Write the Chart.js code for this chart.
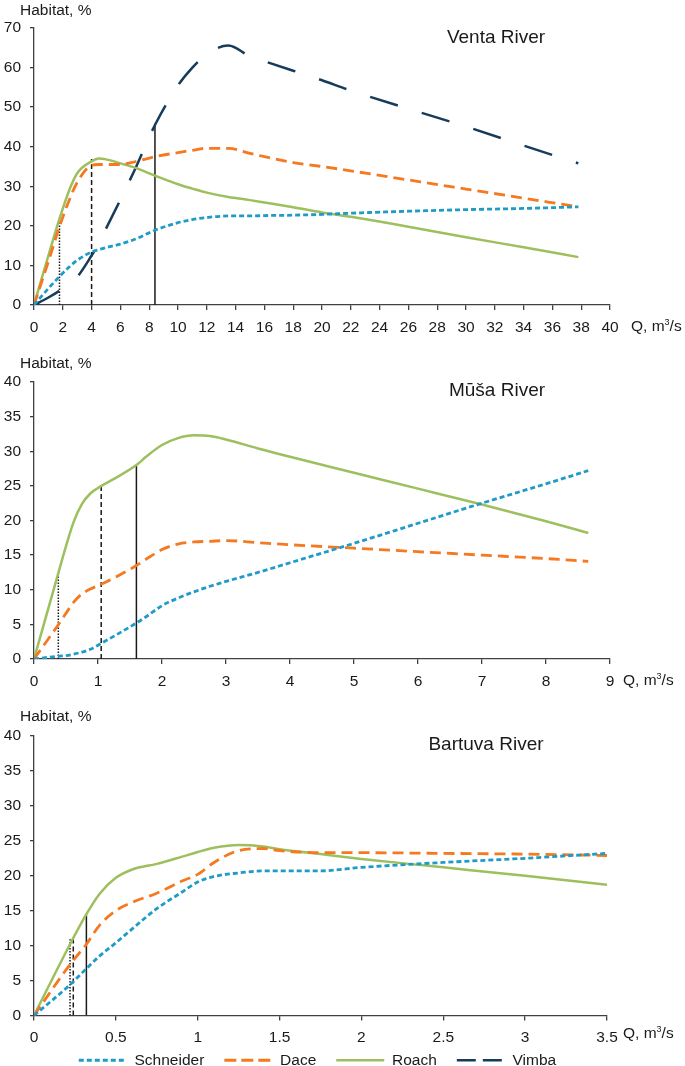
<!DOCTYPE html>
<html>
<head>
<meta charset="utf-8">
<script src="https://cdn.jsdelivr.net/npm/chart.js@4.4.1/dist/chart.umd.min.js"></script>
<style>
  html, body { margin: 0; padding: 0; background: #fff; }
  body { width: 685px; height: 1066px; position: relative; overflow: hidden;
         font-family: "Liberation Sans", Arial, sans-serif; color: #1a1a1a; }
  canvas { position: absolute; left: 0; }
  .lbl { position: absolute; font-size: 15.5px; line-height: 18px; white-space: nowrap; transform: translateY(-50%); }
  .river { position: absolute; font-size: 19px; line-height: 22px; white-space: nowrap; transform: translate(-50%, -50%); }
  sup { font-size: 9px; vertical-align: 6px; line-height: 0; }
</style>
</head>
<body>
<canvas id="ventaChart" width="685" height="335" style="top:0px"></canvas>
<canvas id="musaChart" width="685" height="344" style="top:345px"></canvas>
<canvas id="bartuvaChart" width="685" height="391" style="top:700px"></canvas>

<div class="lbl" style="left:20px; top:10px">Habitat, %</div>
<div class="river" style="left:496px; top:37px">Venta River</div>
<div class="lbl" style="left:631px; top:326px">Q, m<sup>3</sup>/s</div>

<div class="lbl" style="left:20px; top:363px">Habitat, %</div>
<div class="river" style="left:497px; top:390px">Mūša River</div>
<div class="lbl" style="left:623px; top:680px">Q, m<sup>3</sup>/s</div>

<div class="lbl" style="left:20px; top:716px">Habitat, %</div>
<div class="river" style="left:486px; top:744px">Bartuva River</div>
<div class="lbl" style="left:623px; top:1033px">Q, m<sup>3</sup>/s</div>

<script>
// Venta River
const ventaQ         = [0, 1, 1.77, 2.5, 3, 4, 4.5, 5, 6, 7, 8.4, 10, 11, 12, 13.5, 15, 16, 18, 20, 22, 26, 30, 34, 37.8];
const ventaSchneider = [0, 4.2, 7.2, 9.8, 11.3, 13.4, 14.0, 14.5, 15.4, 16.6, 18.9, 20.8, 21.6, 22.1, 22.5, 22.5, 22.6, 22.7, 22.9, 23.2, 23.7, 24.1, 24.4, 24.8];
const ventaDace      = [0, 11, 19.8, 27, 31, 35.3, 35.5, 35.5, 35.5, 36.2, 37.5, 38.5, 39.1, 39.6, 39.6, 38.3, 37.5, 36.0, 35.0, 33.9, 31.6, 29.3, 27.0, 24.8];
const ventaRoach     = [0, 12.5, 21.8, 29.5, 33.3, 36.3, 37.0, 36.8, 35.8, 34.7, 32.7, 30.5, 29.4, 28.4, 27.3, 26.5, 25.9, 24.7, 23.4, 22.3, 19.8, 17.1, 14.6, 12.1];
const ventaVimba     = [0, 1.9, 3.6, 5.6, 7.1, 12.5, 15.6, 19.3, 26.6, 34.2, 45.5, 55.5, 60.0, 63.4, 65.6, 62.8, 61.6, 59.2, 56.8, 54.2, 49.6, 45.1, 40.3, 35.8];
const ventaMarkQ     = [1.77, 4, 8.4];
const ventaMarkTop   = [21.5, 36.9, 45.8];

// Mūša River
const musaQ         = [0, 0.38, 0.5, 0.62, 0.75, 0.88, 1, 1.25, 1.6, 1.75, 2, 2.25, 2.5, 2.75, 3, 3.5, 4, 5, 6, 7, 8, 8.66];
const musaSchneider = [0, 0.4, 0.5, 0.7, 1.0, 1.4, 2.0, 3.3, 5.2, 6.1, 7.7, 8.8, 9.7, 10.5, 11.2, 12.5, 13.9, 16.7, 19.6, 22.5, 25.3, 27.2];
const musaDace      = [0, 4.95, 6.6, 8.2, 9.4, 10.1, 10.6, 11.7, 13.5, 14.4, 15.8, 16.6, 16.9, 17.0, 17.1, 16.8, 16.5, 16.0, 15.5, 15.0, 14.5, 14.1];
const musaRoach     = [0, 12.4, 16.3, 19.8, 22.4, 23.9, 24.7, 26.0, 28.0, 29.2, 30.9, 31.9, 32.3, 32.2, 31.7, 30.4, 29.2, 26.9, 24.6, 22.3, 19.9, 18.2];
const musaMarkQ     = [0.38, 1.05, 1.6];
const musaMarkTop   = [12.4, 25.0, 27.9];

// Bartuva River
const bartuvaQ         = [0, 0.22, 0.32, 0.4, 0.5, 0.6, 0.75, 0.9, 1, 1.1, 1.25, 1.4, 1.5, 1.75, 2, 2.5, 3, 3.5];
const bartuvaSchneider = [0, 4.4, 6.7, 8.5, 10.4, 12.4, 15.3, 17.6, 19.1, 19.9, 20.4, 20.7, 20.7, 20.7, 21.2, 21.9, 22.5, 23.2];
const bartuvaDace      = [0, 7.3, 10.2, 12.9, 15.0, 16.2, 17.5, 19.2, 20.2, 21.9, 23.6, 23.9, 23.6, 23.3, 23.3, 23.2, 23.1, 22.9];
const bartuvaRoach     = [0, 10.2, 14.5, 17.4, 19.7, 20.9, 21.7, 22.7, 23.4, 24.0, 24.4, 24.2, 23.8, 23.1, 22.4, 21.2, 20.0, 18.7];
const bartuvaMarkQ     = [0.22, 0.24, 0.32];
const bartuvaMarkTop   = [10.9, 11.2, 14.5];

const speciesNames = ['Schneider', 'Dace', 'Roach', 'Vimba'];
const speciesColors = ['#1F9BC8', '#F47920', '#9DBF5E', '#173B5A'];
const speciesDash = [[5, 3], [11, 6], [], [29, 25]];
const speciesWidth = [2.8, 2.8, 2.5, 2.5];
const legendDash = [[5, 3], [12, 5], [], [19, 7]];
const markDash = [[1.5, 1.5], [5, 3], []];

Chart.defaults.font.family = '"Liberation Sans", Arial, sans-serif';
Chart.defaults.font.size = 15.5;
Chart.defaults.color = '#1a1a1a';

function pairs(xs, ys) {
  return xs.map((x, i) => ({x: x, y: ys[i]}));
}

function buildDatasets(q, series, markQ, markTop) {
  const sets = speciesNames.map((name, i) => ({
    label: name,
    data: series[i] ? pairs(q, series[i]) : [],
    borderColor: speciesColors[i],
    backgroundColor: speciesColors[i],
    borderWidth: speciesWidth[i],
    borderDash: speciesDash[i],
    cubicInterpolationMode: 'monotone',
    pointRadius: 0,
    fill: false
  }));
  markQ.forEach((mq, i) => {
    sets.push({
      label: 'mark' + i,
      data: [{x: mq, y: 0}, {x: mq, y: markTop[i]}],
      borderColor: '#1a1a1a',
      borderWidth: 1.5,
      borderDash: markDash[i],
      pointRadius: 0,
      tension: 0,
      fill: false
    });
  });
  return sets;
}

// nudge the shared legend under the last panel
const legendShift = {
  id: 'legendShift',
  afterLayout(chart) {
    if (chart.options.plugins.legend.display && chart.legend) {
      chart.legend.left += 14;
      chart.legend.right += 14;
      chart.legend.top -= 13;
      chart.legend.bottom -= 13;
    }
  }
};

function makeChart(id, datasets, cfg) {
  new Chart(document.getElementById(id), {
    type: 'line',
    data: {datasets: datasets},
    options: {
      responsive: false,
      animation: false,
      devicePixelRatio: 1,
      layout: {padding: {top: cfg.padTop, right: cfg.padRight, left: 0, bottom: 0}},
      scales: {
        x: {
          type: 'linear',
          min: 0,
          max: cfg.xMax,
          afterFit: s => { s.height = 30; },
          afterBuildTicks: s => { s.ticks = cfg.xTicks.map(v => ({value: v})); },
          border: {color: '#404040', width: 1.3},
          grid: {drawOnChartArea: false, tickLength: 5, color: '#404040', lineWidth: 1.3},
          ticks: {
            padding: 8,
            autoSkip: false,
            maxRotation: 0,
            callback: v => String(v)
          }
        },
        y: {
          min: 0,
          max: cfg.yMax,
          afterFit: s => { s.width = 34; },
          afterBuildTicks: s => { s.ticks = cfg.yTicks.map(v => ({value: v})); },
          border: {color: '#404040', width: 1.3},
          grid: {drawOnChartArea: false, tickLength: 4, color: '#404040', lineWidth: 1.3},
          ticks: {padding: 9, callback: v => String(v)}
        }
      },
      plugins: {
        tooltip: {enabled: false},
        legend: {
          display: cfg.legend,
          position: 'bottom',
          labels: {
            usePointStyle: true,
            pointStyle: 'line',
            pointStyleWidth: 48,
            padding: 20,
            generateLabels(chart) {
              const items = Chart.defaults.plugins.legend.labels.generateLabels(chart);
              return items.filter(it => it.datasetIndex < 4).map(it => {
                it.lineDash = legendDash[it.datasetIndex];
                return it;
              });
            }
          }
        }
      }
    },
    plugins: [legendShift]
  });
}

const ventaXTicks = [0, 2, 4, 6, 8, 10, 12, 14, 16, 18, 20, 22, 24, 26, 28, 30, 32, 34, 36, 38, 40];
const ventaYTicks = [0, 10, 20, 30, 40, 50, 60, 70];
const musaXTicks = [0, 1, 2, 3, 4, 5, 6, 7, 8, 9];
const bartuvaXTicks = [0, 0.5, 1, 1.5, 2, 2.5, 3, 3.5];
const habitatTicks = [0, 5, 10, 15, 20, 25, 30, 35, 40];

makeChart('ventaChart',
  buildDatasets(ventaQ, [ventaSchneider, ventaDace, ventaRoach, ventaVimba], ventaMarkQ, ventaMarkTop),
  {padTop: 28, padRight: 75, xMax: 40, yMax: 70, xTicks: ventaXTicks, yTicks: ventaYTicks, legend: false});

makeChart('musaChart',
  buildDatasets(musaQ, [musaSchneider, musaDace, musaRoach, null], musaMarkQ, musaMarkTop),
  {padTop: 37, padRight: 75, xMax: 9, yMax: 40, xTicks: musaXTicks, yTicks: habitatTicks, legend: false});

makeChart('bartuvaChart',
  buildDatasets(bartuvaQ, [bartuvaSchneider, bartuvaDace, bartuvaRoach, null], bartuvaMarkQ, bartuvaMarkTop),
  {padTop: 36, padRight: 78, xMax: 3.5, yMax: 40, xTicks: bartuvaXTicks, yTicks: habitatTicks, legend: true});
</script>
</body>
</html>
